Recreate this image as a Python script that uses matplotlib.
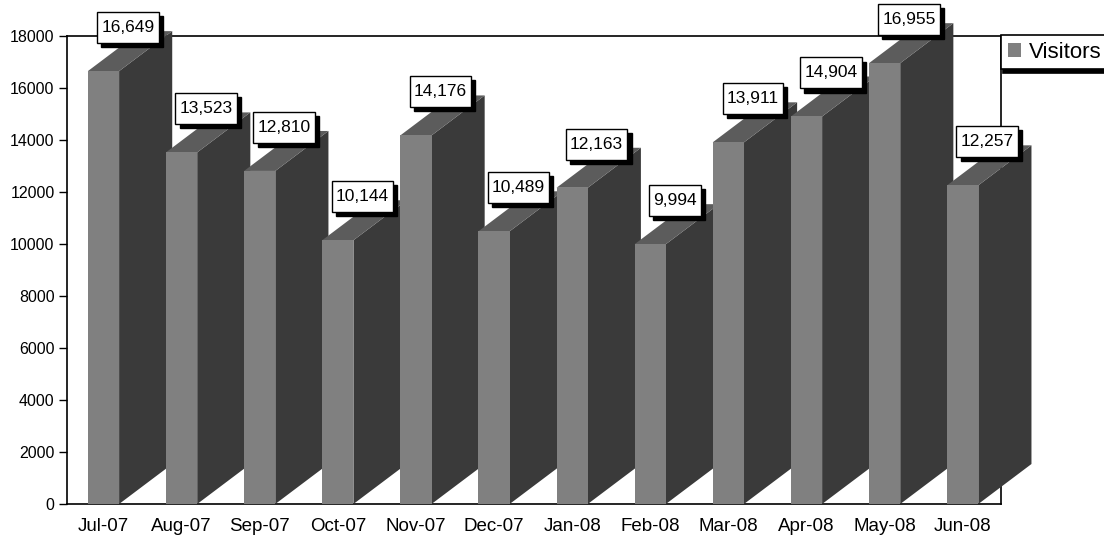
import numpy as np
import matplotlib.pyplot as plt
from matplotlib.patches import Polygon, Patch
from matplotlib.path import Path

months = ['Jul-07', 'Aug-07', 'Sep-07', 'Oct-07', 'Nov-07', 'Dec-07',
          'Jan-08', 'Feb-08', 'Mar-08', 'Apr-08', 'May-08', 'Jun-08']
visitors = [16649, 13523, 12810, 10144, 14176, 10489,
            12163, 9994, 13911, 14904, 16955, 12257]
yticks = list(range(0, 18001, 2000))

plt.rcParams['font.family'] = ['Liberation Sans', 'DejaVu Sans']

fig = plt.figure(figsize=(11.04, 5.36), dpi=100)
ax = fig.add_axes([67/1104, 32/536, (1001-67)/1104, 468/536])
ax.set_xlim(-0.467, 11.49)
ax.set_ylim(0, 18000)

# 3d look: bar width, depth offsets (in data units)
w = 0.4
dx = 0.68
dy = 1538
front_c = '#808080'
side_c = '#3a3a3a'
top_c = '#5c5c5c'

for i, v in enumerate(visitors):
    x0, x1 = i - w/2, i + w/2
    z = 3 + i
    side = Polygon([(x1, 0), (x1+dx, dy), (x1+dx, v+dy), (x1, v)],
                   fc=side_c, ec='none', zorder=z, clip_on=False)
    top = Polygon([(x0, v), (x1, v), (x1+dx, v+dy), (x0+dx, v+dy)],
                  fc=top_c, ec='none', zorder=z, clip_on=False)
    front = Polygon([(x0, 0), (x1, 0), (x1, v), (x0, v)],
                    fc=front_c, ec='none', zorder=z, clip_on=False)
    ax.add_patch(side)
    ax.add_patch(top)
    ax.add_patch(front)


def tall_box(x0, y0, width, height, mutation_size):
    # label box with more room above/below than left/right
    px = 0.24 * mutation_size
    py = 0.46 * mutation_size
    xa, ya = x0 - px, y0 - py
    xb, yb = x0 + width + px, y0 + height + py
    return Path([(xa, ya), (xb, ya), (xb, yb), (xa, yb), (xa, ya)],
                closed=True)


for i, v in enumerate(visitors):
    xy = (i + dx/2, v + dy/2)
    txt = f'{v:,}'
    ax.annotate(txt, xy=xy, xytext=(1.5, 14.0), textcoords='offset points',
                ha='center', va='center', fontsize=12.5, color='black',
                bbox=dict(boxstyle=tall_box, fc='black', ec='black', lw=1),
                zorder=30, annotation_clip=False)
    ax.annotate(txt, xy=xy, xytext=(-1.5, 17.0), textcoords='offset points',
                ha='center', va='center', fontsize=12.5, color='black',
                bbox=dict(boxstyle=tall_box, fc='white', ec='black', lw=1),
                zorder=31, annotation_clip=False)

ax.set_yticks(yticks)
ax.set_yticklabels([str(t) for t in yticks])
ax.set_xticks(range(len(months)))
ax.set_xticklabels(months)
ax.tick_params(axis='y', direction='out', length=6, width=1, labelsize=11.5, pad=3)
ax.tick_params(axis='x', length=0, labelsize=13.5, pad=10)
for s in ax.spines.values():
    s.set_linewidth(1.2)
    s.set_color('black')
    s.set_zorder(1)

leg = fig.legend(handles=[Patch(fc=front_c, ec='none', label='Visitors')],
                 loc='upper left', bbox_to_anchor=(1001/1104, 1-35/536),
                 fontsize=16, frameon=True, fancybox=False, edgecolor='black',
                 framealpha=1, borderaxespad=0, handlelength=0.6, handleheight=0.6,
                 handletextpad=0.35, borderpad=0.3,
                 shadow={'ox': 1.5, 'oy': -2.5, 'color': 'black', 'alpha': 1})
leg.get_frame().set_linewidth(1.2)

plt.savefig('out.png', dpi=100)
